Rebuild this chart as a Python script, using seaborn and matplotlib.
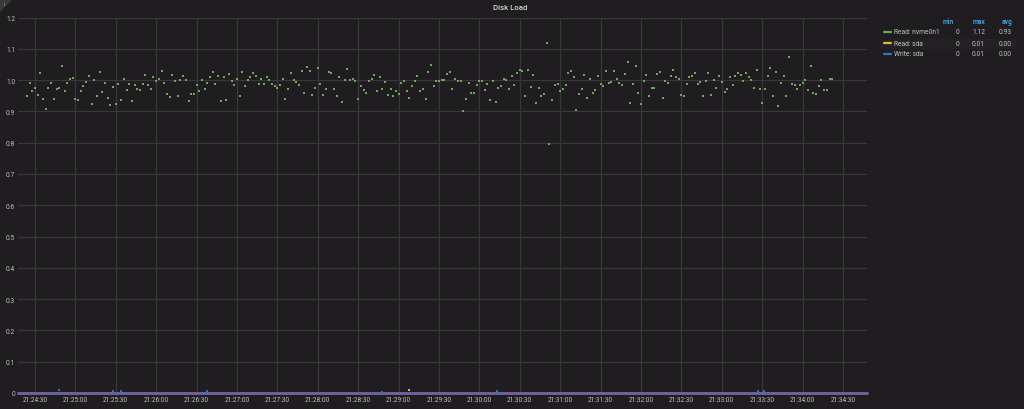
import numpy as np
import pandas as pd
import matplotlib
matplotlib.use("Agg")
import matplotlib.pyplot as plt
import matplotlib.dates as mdates
from matplotlib.patches import Polygon, Rectangle
from matplotlib.lines import Line2D
import seaborn as sns

# ---------------- data ----------------
start_time = "2020-01-01 21:24:24"
step_seconds = 2
nvme_read = [
    0.948, 0.992, 0.965, 0.976, 0.952, 1.022, 0.940, 0.908, 0.976, 0.991,
    0.940, 0.970, 0.975, 1.045, 0.965, 0.992, 1.003, 1.008, 0.941, 0.937,
    0.965, 0.982, 0.994, 1.013, 0.925, 1.001, 0.948, 1.025, 0.961, 0.992,
    0.944, 0.919, 0.977, 0.924, 0.989, 0.937, 1.005, 0.968, 0.989, 0.932,
    0.985, 0.972, 0.967, 0.989, 1.017, 0.985, 0.973, 1.009, 0.996, 1.005,
    1.029, 0.992, 0.955, 0.947, 1.017, 0.997, 0.948, 1.001, 1.012, 1.000,
    0.932, 0.956, 0.956, 0.985, 0.965, 1.000, 0.973, 0.992, 1.009, 1.025,
    0.988, 1.013, 0.933, 1.009, 0.935, 1.020, 0.997, 0.985, 1.003, 0.948,
    1.025, 0.981, 1.001, 1.009, 1.022, 1.013, 0.989, 1.002, 0.986, 1.009,
    1.001, 0.986, 0.981, 0.976, 0.985, 1.005, 0.941, 0.973, 1.022, 1.001,
    0.995, 0.984, 1.029, 0.960, 1.041, 1.029, 0.953, 0.976, 1.038, 0.989,
    # ---
    0.952, 0.972, 1.025, 1.022, 0.972, 0.948, 1.009, 0.931, 1.001, 1.034,
    1.001, 1.005, 0.997, 0.941, 0.982, 0.969, 0.960, 0.997, 1.005, 1.016,
    0.965, 1.009, 0.972, 0.994, 0.952, 0.972, 0.948, 0.965, 0.956, 0.992,
    0.997, 0.965, 0.944, 0.981, 0.997, 1.013, 0.965, 0.972, 0.940, 1.027,
    1.048, 0.980, 0.997, 0.997, 1.001, 1.001, 1.020, 1.025, 0.973, 1.005,
    0.997, 0.997, 0.900, 0.941, 0.992, 0.960, 0.960, 0.985, 0.997, 0.997,
    0.969, 0.989, 0.937, 0.997, 0.929, 0.975, 0.981, 1.005, 1.001, 0.973,
    1.013, 0.985, 1.022, 1.033, 1.029, 0.948, 1.033, 0.977, 1.017, 0.926,
    0.976, 0.948, 0.956, 1.120, 0.796, 0.937, 0.985, 0.988, 0.965, 0.972,
    0.985, 1.022, 1.029, 1.009, 0.905, 0.956, 0.972, 1.017, 0.944, 1.005,
    0.960, 0.969, 1.013, 0.989,
    # ---
    0.981, 1.029, 0.992, 0.994, 1.029, 1.005, 0.992, 0.985, 1.020, 1.058,
    0.927, 0.989, 1.044, 0.960, 0.923, 0.997, 1.017, 0.948, 0.976, 0.976,
    1.020, 1.025, 0.944, 0.997, 0.992, 1.013, 1.033, 1.009, 1.004, 0.953,
    0.948, 0.989, 1.009, 1.013, 1.022, 0.989, 0.994, 0.948, 0.997, 1.022,
    0.953, 1.001, 0.976, 1.013, 0.994, 0.961, 0.971, 1.009, 0.985, 1.013,
    1.023, 1.017, 0.997, 1.022, 1.009, 1.001, 0.976, 1.033, 0.973, 0.928,
    0.973, 1.013, 1.038, 0.948, 1.025, 0.916, 0.992, 1.013, 0.948, 1.074,
    0.989, 0.985, 0.973, 0.985, 0.992, 1.001, 0.969, 1.045, 0.960, 0.956,
    0.981, 1.001, 0.969, 0.969, 1.005, 1.005,
]
sda_read_times = ["21:29:08"]
sda_read_vals = [0.01]
sda_write_times = ["21:24:48", "21:25:28", "21:25:34", "21:26:38", "21:28:48",
                   "21:30:13", "21:33:27", "21:33:31"]
sda_write_vals = [0.01, 0.005, 0.005, 0.005, 0.004, 0.005, 0.007, 0.007]
x_range = ["21:24:17.4", "21:34:47.8"]
y_ticks = [0, 0.1, 0.2, 0.3, 0.4, 0.5, 0.6, 0.7, 0.8, 0.9, 1.0, 1.1, 1.2]
y_labels = ["0", "0.1", "0.2", "0.3", "0.4", "0.5", "0.6", "0.7", "0.8", "0.9", "1.0", "1.1", "1.2"]
legend_names = ["Read: nvme0n1", "Read: sda", "Write: sda"]
legend_min = ["0", "0", "0"]
legend_max = ["1.12", "0.01", "0.01"]
legend_avg = ["0.93", "0.00", "0.00"]
title = "Disk Load"

# ---------------- styling ----------------
BG = "#1f1d1f"
GRID = "#383838"
TXT = "#c2c2c2"
GREEN = "#6fa85c"
YELLOW = "#eab839"
BLUE = "#1f78c1"
PURPLE = "#705da0"
HEAD = "#33a2e5"

sns.set_theme(style="dark")
plt.rcParams["font.family"] = ["Roboto", "DejaVu Sans"]

day = "2020-01-01 "
df = pd.DataFrame({
    "time": pd.date_range(start_time, periods=len(nvme_read), freq=f"{step_seconds}s"),
    "value": nvme_read,
})
df_r = pd.DataFrame({"time": pd.to_datetime([day + t for t in sda_read_times]), "value": sda_read_vals})
df_w = pd.DataFrame({"time": pd.to_datetime([day + t for t in sda_write_times]), "value": sda_write_vals})

fig = plt.figure(figsize=(10.24, 4.10), dpi=100, facecolor=BG)
ax = fig.add_axes([18 / 1024, 1 - 394 / 410, (867 - 18) / 1024, (394 - 18.5) / 410])
ax.set_facecolor(BG)

ax.axhline(0, color=PURPLE, lw=2.2, zorder=3, clip_on=False)
sns.scatterplot(data=df, x="time", y="value", ax=ax, color=GREEN, marker="s",
                s=4.5, linewidth=0, zorder=4)
sns.scatterplot(data=df_r, x="time", y="value", ax=ax, color=YELLOW, marker="s",
                s=4.5, linewidth=0, zorder=4, clip_on=False)
sns.scatterplot(data=df_w, x="time", y="value", ax=ax, color=BLUE, marker="s",
                s=4.5, linewidth=0, zorder=4, clip_on=False)

ax.set_xlim(pd.to_datetime(day + x_range[0]), pd.to_datetime(day + x_range[1]))
ax.set_ylim(0, 1.2)
ax.set_yticks(y_ticks)
ax.set_yticklabels(y_labels)
ax.xaxis.set_major_locator(mdates.SecondLocator(bysecond=[0, 30]))
ax.xaxis.set_major_formatter(mdates.DateFormatter("%H:%M:%S"))
ax.grid(True, color=GRID, lw=0.9)
ax.set_axisbelow(True)
ax.tick_params(axis="both", length=0, colors=TXT, labelsize=4.7)
ax.tick_params(axis="y", pad=2)
ax.tick_params(axis="x", pad=2.5)
for s in ax.spines.values():
    s.set_visible(False)
ax.set_xlabel("")
ax.set_ylabel("")

# title
fig.text(510 / 1024, 1 - 7.5 / 410, title, ha="center", va="center",
         fontsize=5.6, color="#d8d8d8", fontweight="medium")

# corner info triangle
fig.patches.append(Polygon([[0, 410], [13, 410], [0, 397]], closed=True,
                           transform=None, facecolor="#3a3a3a", edgecolor="none"))
fig.text(4 / 1024, 1 - 4.5 / 410, "i", fontsize=4, color="#9a9a9a", ha="center", va="center")

# legend table
def fy(py):
    return 1 - py / 410

fig.patches.append(Rectangle((880 / 1024, fy(49.5)), (1016 - 880) / 1024, 10 / 410,
                             transform=fig.transFigure, facecolor="#232123", edgecolor="none"))
for hx, h in zip([954, 985, 1012], ["min", "max", "avg"]):
    fig.text(hx / 1024, fy(22), h, ha="right", va="center", fontsize=4.8,
             color=HEAD, fontweight="bold")
for i, (name, c) in enumerate(zip(legend_names, [GREEN, YELLOW, BLUE])):
    ry = 33 + 11 * i
    fig.add_artist(Line2D([884 / 1024, 891 / 1024], [fy(ry), fy(ry)], color=c, lw=1.6,
                          transform=fig.transFigure))
    fig.text(894 / 1024, fy(ry), name, ha="left", va="center", fontsize=4.8, color=TXT)
    fig.text(959 / 1024, fy(ry), legend_min[i], ha="right", va="center", fontsize=4.8, color=TXT)
    fig.text(985 / 1024, fy(ry), legend_max[i], ha="right", va="center", fontsize=4.8, color=TXT)
    fig.text(1012 / 1024, fy(ry), legend_avg[i], ha="right", va="center", fontsize=4.8, color=TXT)

fig.savefig("out.png", dpi=100, facecolor=BG)
